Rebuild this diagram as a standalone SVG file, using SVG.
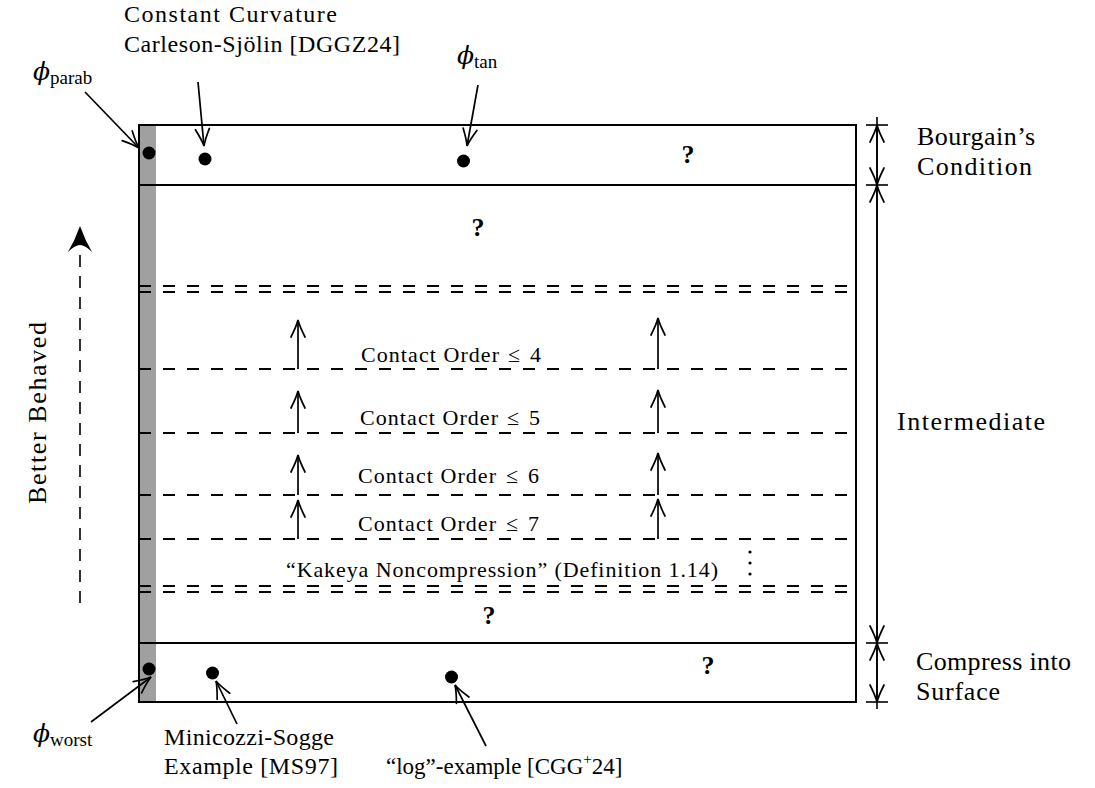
<svg xmlns="http://www.w3.org/2000/svg" width="1095" height="788" viewBox="0 0 1095 788">
<defs>
<style>
text{font-family:"Liberation Serif","DejaVu Serif",serif;fill:#000}
.l24{font-size:24px}
.l23{font-size:23px}
.l26{font-size:26px}
.l22{font-size:22px}
.phi{font-style:italic;font-size:25px;font-family:"DejaVu Serif","Liberation Serif",serif}
.sub{font-size:19px}
.sup{font-size:15px}
.q{font-weight:bold;font-size:26px;text-anchor:middle}
.frame{fill:none;stroke:#000;stroke-width:2}
.dash{fill:none;stroke:#000;stroke-width:2;stroke-dasharray:12 12}
.arr{fill:none;stroke:#000;stroke-width:1.7;marker-end:url(#head)}
.dim{fill:none;stroke:#000;stroke-width:1.6;marker-start:url(#head);marker-end:url(#head)}
.plain{fill:none;stroke:#000;stroke-width:1.6}
.dot{fill:#000}
</style>
<marker id="head" viewBox="-19 -9 21 18" refX="0" refY="0" markerWidth="21" markerHeight="18" markerUnits="userSpaceOnUse" orient="auto-start-reverse">
<path d="M-17,-7 Q-6,-1.5 0,0 Q-6,1.5 -17,7" fill="none" stroke="#000" stroke-width="1.7" stroke-linecap="round"/>
</marker>
</defs>
<rect x="0" y="0" width="1095" height="788" fill="#fff"/>

<g id="grey-bar"><rect x="140" y="125" width="16" height="577" fill="#a0a0a0"/></g>

<g id="levels">
<line class="dash" x1="139" y1="286" x2="847" y2="286"/>
<line class="dash" x1="139" y1="292" x2="847" y2="292"/>
<line class="dash" x1="139" y1="369" x2="847" y2="369"/>
<line class="dash" x1="139" y1="433" x2="847" y2="433"/>
<line class="dash" x1="139" y1="495" x2="847" y2="495"/>
<line class="dash" x1="139" y1="539" x2="847" y2="539"/>
<line class="dash" x1="139" y1="586" x2="847" y2="586"/>
<line class="dash" x1="139" y1="592" x2="847" y2="592"/>
</g>

<g id="frame">
<rect class="frame" x="139" y="125" width="717" height="577"/>
<line class="frame" x1="139" y1="185" x2="856" y2="185"/>
<line class="frame" x1="139" y1="643" x2="856" y2="643"/>
</g>

<g id="band-bourgain"><text class="q" x="688" y="163">?</text></g>
<g id="band-intermediate-top"><text class="q" x="478" y="236">?</text></g>
<g id="band-intermediate-bottom"><text class="q" x="489" y="624">?</text></g>
<g id="band-compress"><text class="q" x="708" y="674">?</text></g>

<g id="contact4"><text class="l22" x="361" y="362" textLength="138">Contact Order</text><text class="l22" x="508" y="362">≤</text><text class="l22" x="530" y="362">4</text></g>
<g id="contact5"><text class="l22" x="360" y="425" textLength="138">Contact Order</text><text class="l22" x="507" y="425">≤</text><text class="l22" x="529" y="425">5</text></g>
<g id="contact6"><text class="l22" x="358" y="483" textLength="138">Contact Order</text><text class="l22" x="506" y="483">≤</text><text class="l22" x="528" y="483">6</text></g>
<g id="contact7"><text class="l22" x="358" y="531" textLength="138">Contact Order</text><text class="l22" x="506" y="531">≤</text><text class="l22" x="528" y="531">7</text></g>
<g id="kakeya"><text class="l22" x="286" y="577" textLength="432">“Kakeya Noncompression” (Definition 1.14)</text>
<circle class="dot" cx="750" cy="552" r="1.6"/><circle class="dot" cx="750" cy="563" r="1.6"/><circle class="dot" cx="750" cy="574" r="1.6"/></g>

<g id="phi-parab"><circle class="dot" cx="149" cy="153" r="6.5"/>
<text class="l24" x="33" y="80"><tspan class="phi">ϕ</tspan><tspan class="sub" dy="4">parab</tspan></text></g>
<g id="constant-curvature"><circle class="dot" cx="205" cy="159" r="6.5"/>
<text class="l24" x="124" y="22" textLength="213">Constant Curvature</text>
<text class="l24" x="124" y="52" textLength="276">Carleson-Sjölin [DGGZ24]</text></g>
<g id="phi-tan"><circle class="dot" cx="463.5" cy="161" r="6.5"/>
<text class="l24" x="457" y="64"><tspan class="phi">ϕ</tspan><tspan class="sub" dy="4">tan</tspan></text></g>

<g id="phi-worst"><circle class="dot" cx="149" cy="669" r="6.5"/>
<text class="l24" x="33" y="742"><tspan class="phi">ϕ</tspan><tspan class="sub" dy="4">worst</tspan></text></g>
<g id="minicozzi"><circle class="dot" cx="212.5" cy="673" r="6.5"/>
<text class="l24" x="164" y="745" textLength="170">Minicozzi-Sogge</text>
<text class="l24" x="164" y="774" textLength="174">Example [MS97]</text></g>
<g id="log-example"><circle class="dot" cx="451.5" cy="677" r="6.5"/>
<text class="l23" x="386" y="774">“log”-example [CGG<tspan class="sup" dy="-10">+</tspan><tspan dy="10">24]</tspan></text></g>

<g id="label-bourgain"><text class="l26" x="917" y="145" textLength="118">Bourgain’s</text><text class="l26" x="917" y="175" textLength="115">Condition</text></g>
<g id="label-intermediate"><text class="l26" x="897" y="430" textLength="148">Intermediate</text></g>
<g id="label-compress"><text class="l26" x="916" y="670" textLength="155">Compress into</text><text class="l26" x="916" y="700" textLength="84">Surface</text></g>
<g id="label-better"><text class="l26" transform="translate(46,413) rotate(-90)" text-anchor="middle" textLength="182">Better Behaved</text></g>

<g id="connectors">
<line class="arr" x1="85" y1="92" x2="139" y2="148"/>
<line class="arr" x1="198" y1="82" x2="204" y2="146"/>
<line class="arr" x1="478" y1="85" x2="467" y2="146"/>
<line class="arr" x1="91" y1="722" x2="151" y2="677"/>
<line class="arr" x1="237" y1="724" x2="216" y2="681"/>
<line class="arr" x1="486" y1="746" x2="455" y2="685"/>

<line class="arr" x1="298" y1="369" x2="298" y2="320"/>
<line class="arr" x1="658" y1="369" x2="658" y2="318"/>
<line class="arr" x1="298" y1="433" x2="298" y2="391"/>
<line class="arr" x1="658" y1="433" x2="658" y2="390"/>
<line class="arr" x1="298" y1="495" x2="298" y2="455"/>
<line class="arr" x1="658" y1="495" x2="658" y2="453"/>
<line class="arr" x1="298" y1="539" x2="298" y2="500"/>
<line class="arr" x1="658" y1="539" x2="658" y2="499"/>

<line class="plain" x1="877" y1="117" x2="877" y2="709"/>
<line class="dim" x1="877" y1="185" x2="877" y2="125"/>
<line class="dim" x1="877" y1="643" x2="877" y2="185"/>
<line class="dim" x1="877" y1="643" x2="877" y2="702"/>
<line class="plain" x1="866" y1="125" x2="888" y2="125"/>
<line class="plain" x1="866" y1="185" x2="888" y2="185"/>
<line class="plain" x1="866" y1="643" x2="888" y2="643"/>
<line class="plain" x1="866" y1="702" x2="888" y2="702"/>

<line x1="80" y1="603" x2="80" y2="250" fill="none" stroke="#000" stroke-width="1.6" stroke-dasharray="12 9"/>
<path d="M80,226 Q85,240 92,252 Q85,245 80,245 Q75,245 68,252 Q75,240 80,226 Z" fill="#000"/>
</g>
</svg>
